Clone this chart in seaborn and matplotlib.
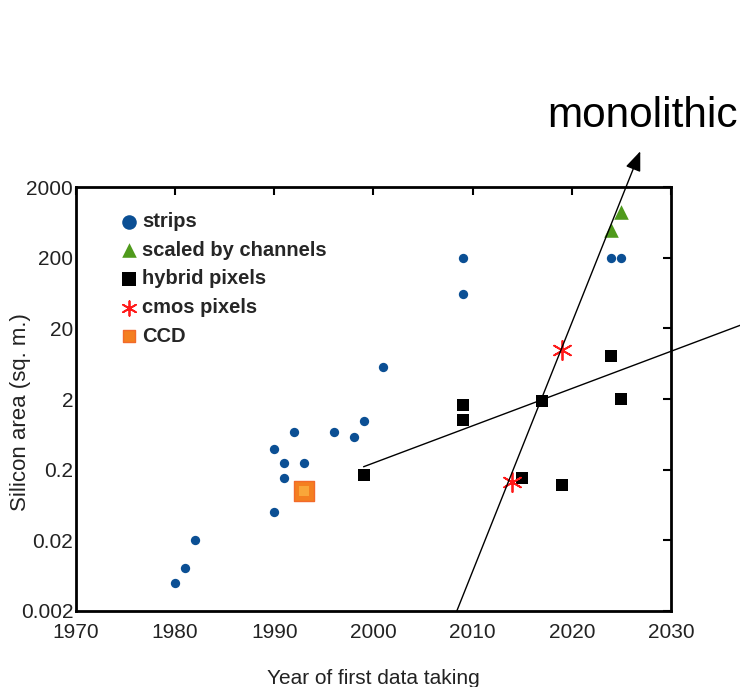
import matplotlib
matplotlib.use("Agg")
import matplotlib.pyplot as plt
import seaborn as sns
import pandas as pd

# ---- data ----
strips_year = [1980, 1981, 1982, 1990, 1990, 1991, 1991, 1992, 1993, 1996, 1998, 1999, 2001, 2009, 2009, 2024, 2025]
strips_area = [0.005, 0.008, 0.02, 0.39, 0.05, 0.25, 0.15, 0.68, 0.25, 0.68, 0.58, 0.98, 5.6, 200, 61, 200, 200]

scaled_year = [2024, 2025]
scaled_area = [500, 900]

hybrid_year = [1999, 2009, 2009, 2015, 2017, 2019, 2024, 2025]
hybrid_area = [0.17, 1.64, 1.0, 0.15, 1.9, 0.12, 8.0, 2.0]

cmos_year = [2014, 2019]
cmos_area = [0.135, 10.0]

ccd_year = [1993]
ccd_area = [0.1]

hybrid_trend_year = [1999, 2038]
hybrid_trend_area = [0.22, 25.0]

mono_start = (2008.4, 0.002)
mono_end = (2026.9, 6400)

yticks = [0.002, 0.02, 0.2, 2, 20, 200, 2000]
ytick_labels = ["0.002", "0.02", "0.2", "2", "20", "200", "2000"]
xticks = [1970, 1980, 1990, 2000, 2010, 2020, 2030]

# ---- plot ----
sns.set_theme(style="white")
plt.rcParams['font.family'] = ['Liberation Sans', 'DejaVu Sans']

fig = plt.figure(figsize=(7.4, 6.87), dpi=100)
ax = fig.add_axes([76/740, 1-611/687, (671-76)/740, (611-187)/687])

df_s = pd.DataFrame({"year": strips_year, "area": strips_area})
df_g = pd.DataFrame({"year": scaled_year, "area": scaled_area})
df_h = pd.DataFrame({"year": hybrid_year, "area": hybrid_area})
df_c = pd.DataFrame({"year": cmos_year, "area": cmos_area})
df_ccd = pd.DataFrame({"year": ccd_year, "area": ccd_area})

sns.scatterplot(data=df_s, x="year", y="area", ax=ax, marker="o", s=45,
                color="#0b4f94", edgecolor="#0b4f94", linewidth=0, label="strips", zorder=3)
sns.scatterplot(data=df_g, x="year", y="area", ax=ax, marker="^", s=110,
                color="#4f9a1c", edgecolor="#4f9a1c", linewidth=0, label="scaled by channels", zorder=3)
sns.scatterplot(data=df_h, x="year", y="area", ax=ax, marker="s", s=75,
                color="black", edgecolor="black", linewidth=0, label="hybrid pixels", zorder=3)
sns.scatterplot(data=df_c, x="year", y="area", ax=ax, marker=(6, 2, 0), s=190,
                color="#ff1a1a", edgecolor="#ff1a1a", linewidth=1.3, label="cmos pixels", zorder=4)
sns.scatterplot(data=df_ccd, x="year", y="area", ax=ax, marker="s", s=190,
                color="#f47f20", edgecolor="#f26a2a", linewidth=1.0, label="CCD", zorder=3)
# lighter centre to mimic the gradient of the CCD marker
sns.scatterplot(data=df_ccd, x="year", y="area", ax=ax, marker="s", s=60,
                color="#fbb040", edgecolor="none", linewidth=0, legend=False, zorder=3.5, alpha=0.8)

ax.plot(hybrid_trend_year, hybrid_trend_area, color="black", lw=1.0, clip_on=False, zorder=5)
ax.annotate("", xy=mono_end, xytext=mono_start, xycoords="data", textcoords="data",
            annotation_clip=False,
            arrowprops=dict(arrowstyle="-|>,head_length=1.0,head_width=0.4",
                            color="black", lw=1.0, shrinkA=0, shrinkB=0), zorder=5)

ax.set_yscale("log")
ax.set_xlim(1970, 2030)
ax.set_ylim(0.002, 2000)
ax.set_yticks(yticks)
ax.set_yticklabels(ytick_labels)
ax.minorticks_off()
ax.set_xticks(xticks)
ax.set_xticklabels([str(x) for x in xticks])

ax.tick_params(direction="in", length=6, width=1.5, top=True, right=True,
               labelsize=15, pad=2, colors="black")
ax.tick_params(axis="x", labelsize=15, pad=9)
for lab in ax.get_yticklabels():
    lab.set_color("#222222")
for lab in ax.get_xticklabels():
    lab.set_color("#222222")
for sp in ax.spines.values():
    sp.set_linewidth(2)
    sp.set_color("black")
    sp.set_visible(True)

ax.set_xlabel("Year of first data taking", fontsize=15, labelpad=19, color="#222222")
ax.set_ylabel("Silicon area (sq. m.)", fontsize=16, color="#222222")
ax.yaxis.set_label_coords(-0.075, 0.47)

leg = ax.legend(loc="upper left", bbox_to_anchor=(0.055, 0.96), frameon=False,
                prop={"weight": "bold", "size": 14.5}, handletextpad=0.05,
                labelspacing=0.48, borderaxespad=0.0, handlelength=1.2)
legend_sizes = [110, 110, 90, 110, 70]
for h, sz in zip(leg.legend_handles, legend_sizes):
    h.set_sizes([sz])

fig.text(643/740, 1-116/687, "monolithic", fontsize=30.5, ha="center", va="center", color="black")

fig.savefig("out.png", dpi=100, facecolor="white")
